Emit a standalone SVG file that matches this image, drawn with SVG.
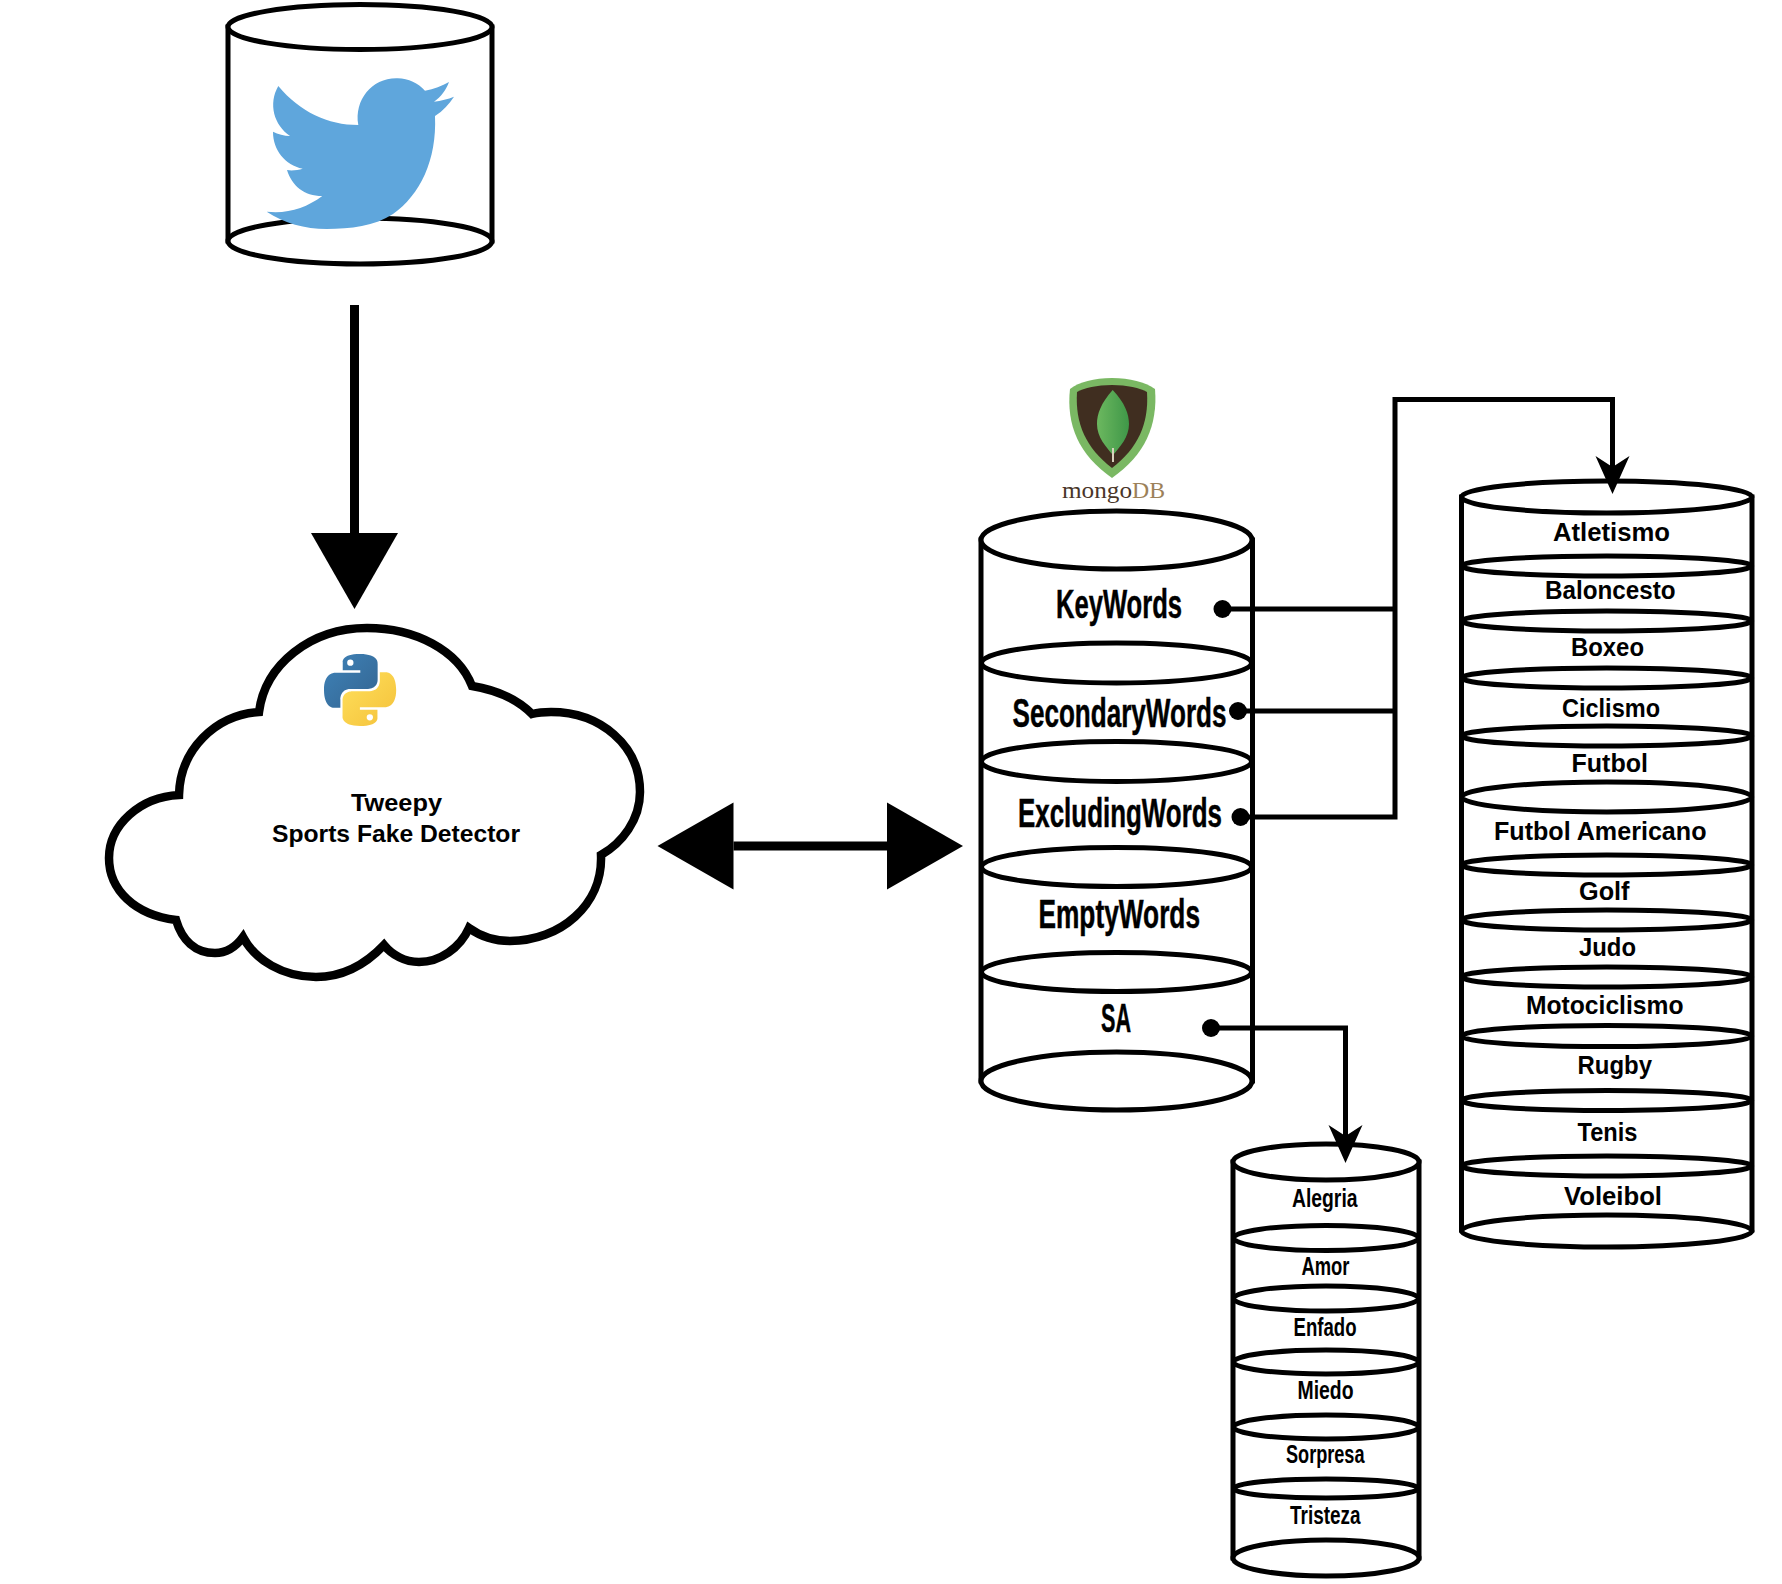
<svg xmlns="http://www.w3.org/2000/svg" width="1782" height="1584" viewBox="0 0 1782 1584">
<style>
.s{fill:#fff;stroke:#000;stroke-width:5}
text{font-family:"Liberation Sans","Open Sans",sans-serif;font-weight:700;fill:#000}
.big{font-size:41px;stroke:#000;stroke-width:.5px}
.mid{font-size:25px}
.cl{font-size:24px}
.wire{fill:none;stroke:#000;stroke-width:5}
.thick{fill:none;stroke:#000;stroke-width:9}
</style>
<defs>
<marker id="stealth" markerUnits="userSpaceOnUse" markerWidth="40" markerHeight="36" viewBox="0 -18 40 36" refX="11" refY="0" orient="auto"><path d="M0 -17L38 0L0 17L11 0Z"/></marker>
<marker id="dot" markerUnits="userSpaceOnUse" markerWidth="20" markerHeight="20" viewBox="-10 -10 20 20" refX="0" refY="0"><circle r="9"/></marker>
<marker id="bigV" markerUnits="userSpaceOnUse" markerWidth="78" markerHeight="88" viewBox="0 -44 78 88" refX="0" refY="0" orient="auto-start-reverse"><path d="M0 -43.5L76 0L0 43.5Z"/></marker>
<linearGradient id="py1" x1="0" y1="0" x2="1" y2="1"><stop offset="0" stop-color="#3f83b9"/><stop offset="1" stop-color="#336490"/></linearGradient>
<linearGradient id="py2" x1="0" y1="0" x2="1" y2="1"><stop offset="0" stop-color="#ffe05c"/><stop offset="1" stop-color="#f4c13a"/></linearGradient>
<linearGradient id="leaf" x1="0" y1="0" x2="1" y2="0"><stop offset="0" stop-color="#6cb85f"/><stop offset="1" stop-color="#3f9748"/></linearGradient>
</defs>

<g id="twitter-db">
<path class="s" d="M228 27V241H492V27Z"/>
<ellipse class="s" cx="360" cy="27" rx="132" ry="22.500"/>
<ellipse class="s" cx="360" cy="241" rx="132" ry="23"/>
<path fill="#5fa6dc" d="M278.300 86C300 112 328 125 358.300 125C354 100 372 78 396.700 78.300C408 78 418 83 425 90.700C434 89 442 86 449 82C446 90 441 97 434 101.700C441 101 448 99 454 96.700C449 104 443 111 435 116C437 160 420 195 393 214C375 226 350 229 326.700 229C305 229 284 223 266.700 211.700C288 214 306 208 322.300 196C304 196 292 186 287 170C292 171 298 170 302.700 168.700C285 165 273 150 273 131.700C278 134 284 136 290 136C274 125 268 104 278.300 86Z"/>
</g>

<g id="cloud">
<path fill="#fff" stroke="#000" stroke-width="8.500" d="M259 712C265 665 310 628 367 628C415 628 458 650 472 686C497 690 518 700 532 714C540 712 545 712 551 712C600 712 640 745 640 792C640 820 622 843 601 855C603 905 560 941 510 941C495 941 480 936 469 928C460 948 440 962 419 962C405 962 392 955 384 945C365 965 342 977 316 977C283 977 255 960 243 937C235 948 225 953 215 953C195 953 182 940 176 920C135 915 109 890 109 858C109 825 140 797 179 795C180 750 215 715 259 712Z"/>
<g transform="translate(324 654) scale(.655)">
<path fill="url(#py1)" fill-rule="evenodd" d="M54.900 0C26.800 0 28.600 12.200 28.600 12.200V24.800H55.400V28.600H17.900S0 26.600 0 54.900S15.700 82.200 15.700 82.200H25V69S24.500 53.300 40.400 53.300H67S81.900 53.500 81.900 38.900V14.800S84.200 0 54.900 0ZM40.200 8.500A4.800 4.800 0 1 1 40.200 18.100A4.800 4.800 0 0 1 40.200 8.500Z"/>
<path fill="url(#py2)" fill-rule="evenodd" d="M55.300 110C83.400 110 81.600 97.800 81.600 97.800V85.200H54.800V81.400H92.300S110.200 83.400 110.200 55.100S94.500 27.800 94.500 27.800H85.200V41S85.700 56.700 69.800 56.700H43.200S28.300 56.500 28.300 71.100V95.200S26 110 55.300 110ZM70 101.500A4.800 4.800 0 1 1 70 91.900A4.800 4.800 0 0 1 70 101.500Z"/>
</g>
<text class="cl" x="351" y="811" textLength="91" lengthAdjust="spacingAndGlyphs">Tweepy</text>
<text class="cl" x="272" y="842" textLength="248" lengthAdjust="spacingAndGlyphs">Sports Fake Detector</text>
</g>

<g id="mongodb-logo">
<path fill="#7ab863" d="M1112 378C1130 378 1145 382 1155 389C1158 425 1145 455 1112 478C1079 455 1066 425 1070 389C1079 382 1094 378 1112 378Z"/>
<path fill="#402e20" d="M1112 385C1127 385 1140 388 1147 392C1149 424 1138 448 1112 468C1086 448 1075 424 1077 392C1084 388 1097 385 1112 385Z"/>
<path fill="url(#leaf)" d="M1112.700 390C1125 403 1129 414 1129 424C1129 437 1120 447 1113 455C1106 447 1097 437 1097 424C1097 414 1101 403 1112.700 390Z"/>
<path stroke="#d8d2bd" stroke-width="2" d="M1113 448V462"/>
<text x="1062" y="498" font-size="24" textLength="70" lengthAdjust="spacingAndGlyphs" style="font-family:'Liberation Serif',serif;font-weight:400;fill:#4a3629">mongo</text>
<text x="1132" y="498" font-size="24" textLength="33" lengthAdjust="spacingAndGlyphs" style="font-family:'Liberation Serif',serif;font-weight:400;fill:#9c8159">DB</text>
</g>

<g id="main-db">
<path class="s" d="M981 540V1081H1252.500V540Z"/>
<ellipse class="s" cx="1116.500" cy="540" rx="135.500" ry="29"/>
<ellipse class="s" cx="1116.500" cy="663" rx="135" ry="20"/>
<ellipse class="s" cx="1116.500" cy="761.500" rx="135" ry="20"/>
<ellipse class="s" cx="1116.500" cy="867" rx="135" ry="19.500"/>
<ellipse class="s" cx="1116.500" cy="972" rx="135" ry="19.500"/>
<ellipse class="s" cx="1116.500" cy="1081" rx="135.500" ry="29"/>
<text class="big" x="1056" y="618" textLength="126" lengthAdjust="spacingAndGlyphs">KeyWords</text>
<text class="big" x="1012.500" y="727" textLength="214" lengthAdjust="spacingAndGlyphs">SecondaryWords</text>
<text class="big" x="1018" y="827" textLength="204" lengthAdjust="spacingAndGlyphs">ExcludingWords</text>
<text class="big" x="1038.500" y="928" textLength="161.500" lengthAdjust="spacingAndGlyphs">EmptyWords</text>
<text class="big" x="1101" y="1032" textLength="30" lengthAdjust="spacingAndGlyphs">SA</text>
</g>

<g id="sports-db">
<path class="s" d="M1461.500 497V1230H1752V497Z"/>
<ellipse class="s" cx="1606.700" cy="497" rx="145.200" ry="16"/>
<ellipse class="s" cx="1606.700" cy="566" rx="145" ry="10"/>
<ellipse class="s" cx="1606.700" cy="621" rx="145" ry="10"/>
<ellipse class="s" cx="1606.700" cy="678" rx="145" ry="10"/>
<ellipse class="s" cx="1606.700" cy="736" rx="145" ry="10"/>
<ellipse class="s" cx="1606.700" cy="797" rx="145" ry="15"/>
<ellipse class="s" cx="1606.700" cy="865" rx="145" ry="10"/>
<ellipse class="s" cx="1606.700" cy="920" rx="145" ry="10"/>
<ellipse class="s" cx="1606.700" cy="977" rx="145" ry="10"/>
<ellipse class="s" cx="1606.700" cy="1036" rx="145" ry="10.500"/>
<ellipse class="s" cx="1606.700" cy="1100.500" rx="145" ry="10"/>
<ellipse class="s" cx="1606.700" cy="1166" rx="145" ry="10"/>
<ellipse class="s" cx="1606.700" cy="1231" rx="145.200" ry="16"/>
<text class="mid" x="1553" y="541" textLength="117" lengthAdjust="spacingAndGlyphs">Atletismo</text>
<text class="mid" x="1545" y="599" textLength="130.500" lengthAdjust="spacingAndGlyphs">Baloncesto</text>
<text class="mid" x="1571" y="656" textLength="73" lengthAdjust="spacingAndGlyphs">Boxeo</text>
<text class="mid" x="1562" y="717" textLength="98" lengthAdjust="spacingAndGlyphs">Ciclismo</text>
<text class="mid" x="1571.500" y="772" textLength="76.500" lengthAdjust="spacingAndGlyphs">Futbol</text>
<text class="mid" x="1494" y="840" textLength="212.500" lengthAdjust="spacingAndGlyphs">Futbol Americano</text>
<text class="mid" x="1579" y="900" textLength="50.500" lengthAdjust="spacingAndGlyphs">Golf</text>
<text class="mid" x="1579" y="956" textLength="57" lengthAdjust="spacingAndGlyphs">Judo</text>
<text class="mid" x="1526" y="1014" textLength="157.500" lengthAdjust="spacingAndGlyphs">Motociclismo</text>
<text class="mid" x="1577.500" y="1074" textLength="74.500" lengthAdjust="spacingAndGlyphs">Rugby</text>
<text class="mid" x="1577.500" y="1140.500" textLength="60" lengthAdjust="spacingAndGlyphs">Tenis</text>
<text class="mid" x="1564" y="1204.500" textLength="98" lengthAdjust="spacingAndGlyphs">Voleibol</text>
</g>

<g id="sentiment-db">
<path class="s" d="M1233 1162V1558H1419V1162Z"/>
<ellipse class="s" cx="1326" cy="1162" rx="93" ry="18"/>
<ellipse class="s" cx="1326" cy="1238" rx="92.500" ry="12.500"/>
<ellipse class="s" cx="1326" cy="1298.500" rx="92.500" ry="12.500"/>
<ellipse class="s" cx="1326" cy="1362" rx="92.500" ry="12"/>
<ellipse class="s" cx="1326" cy="1427" rx="92.500" ry="12"/>
<ellipse class="s" cx="1326" cy="1488.500" rx="92.500" ry="9.500"/>
<ellipse class="s" cx="1326" cy="1558" rx="93" ry="18"/>
<text class="mid" x="1292" y="1207" textLength="65.500" lengthAdjust="spacingAndGlyphs">Alegria</text>
<text class="mid" x="1301.500" y="1274.500" textLength="48" lengthAdjust="spacingAndGlyphs">Amor</text>
<text class="mid" x="1293.500" y="1336" textLength="63" lengthAdjust="spacingAndGlyphs">Enfado</text>
<text class="mid" x="1297.500" y="1399" textLength="56" lengthAdjust="spacingAndGlyphs">Miedo</text>
<text class="mid" x="1286" y="1463" textLength="78.500" lengthAdjust="spacingAndGlyphs">Sorpresa</text>
<text class="mid" x="1290" y="1524" textLength="70.500" lengthAdjust="spacingAndGlyphs">Tristeza</text>
</g>

<g id="connectors">
<path class="thick" d="M354.500 305V533" marker-end="url(#bigV)"/>
<path class="thick" d="M733.500 846H887" marker-start="url(#bigV)" marker-end="url(#bigV)"/>
<path class="wire" d="M1222.500 609H1395" marker-start="url(#dot)"/>
<path class="wire" d="M1238 711H1395" marker-start="url(#dot)"/>
<path class="wire" d="M1240.500 817H1395V399.500H1612.500V467" marker-start="url(#dot)" marker-end="url(#stealth)"/>
<path class="wire" d="M1211 1028H1345.500V1136" marker-start="url(#dot)" marker-end="url(#stealth)"/>
</g>
</svg>
